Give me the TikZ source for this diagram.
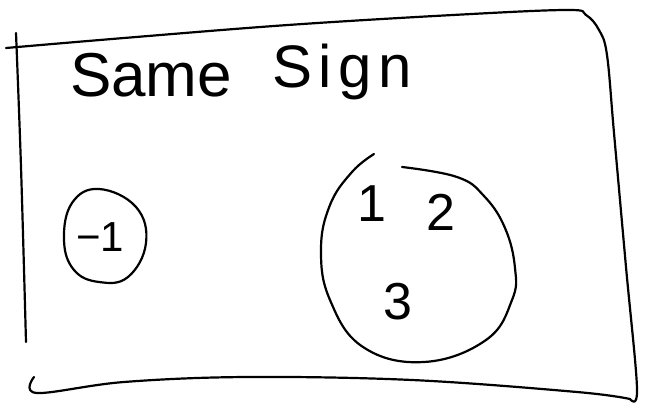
\documentclass[tikz,border=0pt]{standalone}
\usepackage{fontspec}
\setmainfont{Liberation Sans}
\newfontfamily\signfont[LetterSpace=11]{Liberation Sans}
\begin{document}
\begin{tikzpicture}[x=1pt,y=-1pt,
  pen/.style={line width=2.2pt,line cap=round,line join=round,black},
  hand/.style={inner sep=0pt,outer sep=0pt,text=black}]
\useasboundingbox (0,0) rectangle (646,403);
% frame
\draw[pen] plot[smooth,tension=0.6] coordinates {(6,48) (124,38) (288,25) (453,15) (567,10) (586,15) (599,30) (607,55) (614,133) (626,267) (637,388) (630,399)};
\draw[pen] plot[smooth,tension=0.6] coordinates {(630,399) (577,392) (412,380) (247,377) (124,382) (37,393) (34,377)};
\draw[pen] plot[smooth,tension=0.6] coordinates {(16,33) (21,167) (26,342)};
% title
\node[hand,anchor=base west,font=\fontsize{62}{62}\selectfont] (same) at (70,97) {Same};
\node[hand,anchor=base west,font=\fontsize{60}{60}\signfont] (sign) at (272,88) {Sign};
% small set
\draw[pen] plot[smooth cycle,tension=0.7] coordinates {(99,189) (136,207) (146,243) (128,277) (99,282) (74,270) (64,240) (72,203)};
\node[hand,font=\fontsize{42}{42}\selectfont] (m1) at (100,237) {−1};
% big set
\draw[pen] plot[smooth,tension=0.7] coordinates {(374,154) (352,172) (330,205) (321,250) (330,300) (363,347) (424,362) (486,340) (512,300) (515,268) (505,228) (484,196) (457,177) (402,167)};
\node[hand,font=\fontsize{52}{52}\selectfont] (one) at (372,204) {1};
\node[hand,font=\fontsize{52}{52}\selectfont] (two) at (441,212) {2};
\node[hand,font=\fontsize{52}{52}\selectfont] (three) at (398,302) {3};
\end{tikzpicture}
\end{document}
